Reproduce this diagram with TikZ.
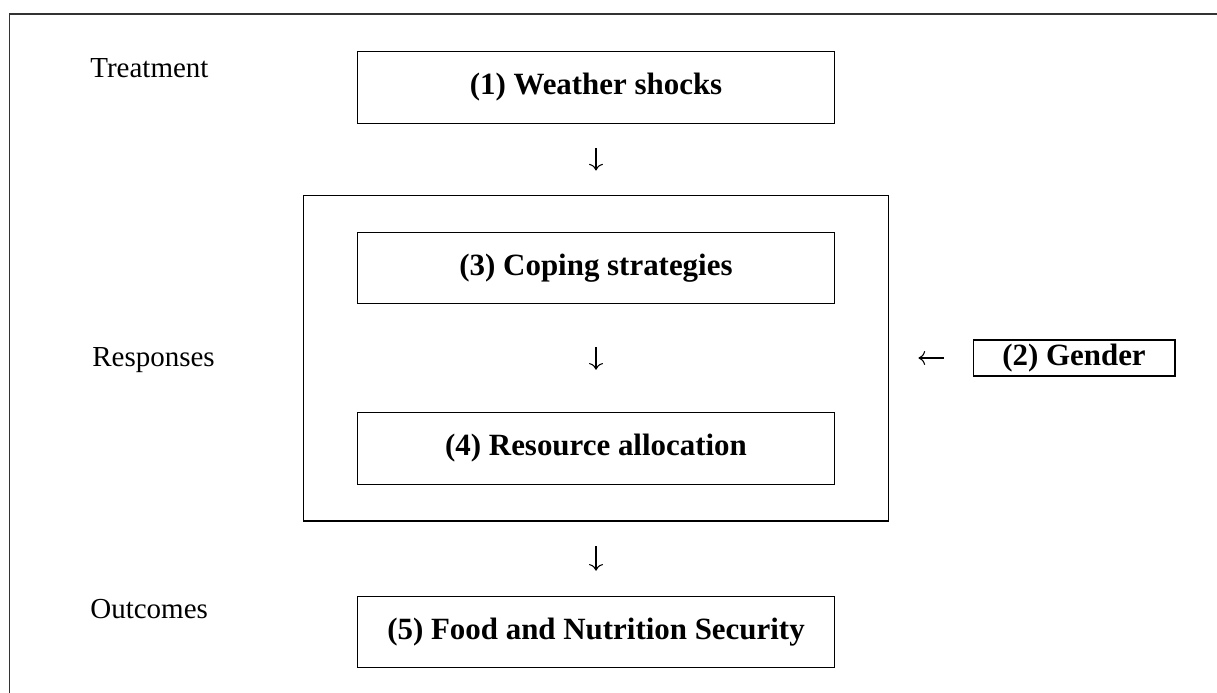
\documentclass[tikz,border=0pt]{standalone}
\usepackage{fontspec}
\setmainfont{Liberation Serif}
\usetikzlibrary{arrows.meta}
\newcommand{\diagsize}{\fontsize{16.5}{20}\selectfont}
\newcommand{\boxsize}{\fontsize{17.6}{21}\selectfont}

\begin{document}
\begin{tikzpicture}[x=0.02cm, y=-0.02cm, font=\diagsize,
  box/.style={draw, line width=0.6pt, minimum width=9.56cm, minimum height=1.43cm, font=\boxsize\bfseries},
  smallbox/.style={draw, line width=0.6pt, minimum width=4.04cm, minimum height=0.72cm, inner sep=1pt, font=\boxsize\bfseries},
  rowlabel/.style={anchor=base west, inner sep=0pt},
  flow/.style={-{To[scale=1.3]}, line width=0.6pt, shorten <=#1, shorten >=#1}]
\useasboundingbox (0,0) rectangle (1217,693);
%% ---- frame ----
\draw[line width=0.6pt, black!80] (9.5,693) -- (9.5,14) -- (1217,14);
%% ---- row labels ----
\node[rowlabel] (lblTreat) at (90,77)  {Treatment};
\node[rowlabel] (lblResp)  at (92,366) {Responses};
\node[rowlabel] (lblOut)   at (90,618) {Outcomes};
%% ---- boxes ----
\node[box] (shocks) at (596,87.5) {(1) Weather shocks};
\node[draw, line width=0.6pt, minimum width=11.72cm, minimum height=6.52cm] (resp) at (596,358) {};
\node[box] (coping) at (596,268)   {(3) Coping strategies};
\node[box] (alloc)  at (596,448.5) {(4) Resource allocation};
\node[box] (fns)    at (596,632)   {(5) Food and Nutrition Security};
\node[smallbox] (gender) at (1074,358) {(2) Gender};
%% ---- arrows ----
\draw[flow=0.48cm] (shocks) -- (resp);
\draw[flow=0.85cm] (coping) -- (alloc);
\draw[flow=0.5cm]  (resp) -- (fns);
\draw[flow=0.58cm] (gender) -- (resp);
\end{tikzpicture}
\end{document}
